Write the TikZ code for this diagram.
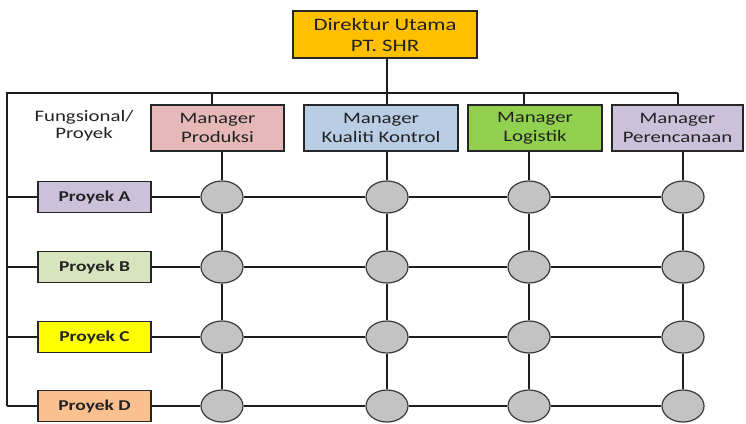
\documentclass[tikz,border=0pt]{standalone}
\usepackage{fontspec}
\setmainfont{Carlito}[FakeStretch=1.3]
\usetikzlibrary{shapes.geometric}
\definecolor{txt}{HTML}{222222}
\definecolor{boxline}{HTML}{262626}
\definecolor{linec}{HTML}{1E1E1E}
\definecolor{hubfill}{HTML}{C3C3C3}
\definecolor{hubline}{HTML}{3A3A3A}
\definecolor{cDir}{HTML}{FFC000}
\definecolor{cProd}{HTML}{E6B9B8}
\definecolor{cQC}{HTML}{B9CDE5}
\definecolor{cLog}{HTML}{92D050}
\definecolor{cPlan}{HTML}{CCC1DA}
\definecolor{cA}{HTML}{CCC1DA}
\definecolor{cB}{HTML}{D7E4BD}
\definecolor{cC}{HTML}{FFFF00}
\definecolor{cD}{HTML}{FAC090}
\begin{document}
\begin{tikzpicture}[x=1pt,y=-1pt,
  box/.style={draw=boxline, line width=1.4pt, inner sep=0pt, align=center, text=txt},
  dirbox/.style={box, fill=cDir, minimum width=184pt, minimum height=47pt,
    font=\fontsize{17.5}{21}\selectfont},
  mgr/.style={box, minimum height=46pt, font=\fontsize{16}{19}\selectfont},
  proj/.style={box, minimum width=113pt, minimum height=31pt,
    font=\fontsize{15}{18}\selectfont\bfseries},
  hub/.style={ellipse, draw=hubline, fill=hubfill, line width=1.2pt,
    minimum width=42pt, minimum height=32pt, inner sep=0pt},
  link/.style={draw=linec, line width=1.5pt}]
\useasboundingbox (0,0) rectangle (746,423);

% top level
\node[dirbox] (dir) at (385,34.5) {Direktur Utama\\PT. SHR};

% functional managers
\node[mgr, fill=cProd, minimum width=133pt] (m1) at (217.5,128) {Manager\\Produksi};
\node[mgr, fill=cQC,   minimum width=154pt] (m2) at (381,128)   {Manager\\Kualiti Kontrol};
\node[mgr, fill=cLog,  minimum width=134pt] (m3) at (535,128)   {Manager\\Logistik};
\node[mgr, fill=cPlan, minimum width=131pt] (m4) at (677.5,128) {Manager\\Perencanaan};

\node[text=txt, align=center, font=\fontsize{16}{17}\selectfont] (corner) at (84,126)
  {Fungsional/\\Proyek};

% projects
\node[proj, fill=cA] (pA) at (94.5,197) {Proyek A};
\node[proj, fill=cB] (pB) at (94.5,267) {Proyek B};
\node[proj, fill=cC] (pC) at (94.5,337) {Proyek C};
\node[proj, fill=cD] (pD) at (94.5,406) {Proyek D};

% matrix crossings
\foreach \r/\y in {A/197,B/267,C/337,D/406}{
  \foreach \c/\x in {1/222,2/387,3/529,4/683}{
    \node[hub] (h\r\c) at (\x,\y) {};
  }
}

% bus and side rail
\coordinate (busL) at (7,93);
\coordinate (busR) at (678,93);
\coordinate (d1) at (212,93);
\coordinate (d2) at (387,93);
\coordinate (d3) at (524,93);
\coordinate (d4) at (678,93);
\coordinate (railD) at (7,406);
\draw[link] (busR) -- (busL) -- (railD);
\draw[link] (dir.south -| d2) -- (d2 |- m2.north);
\draw[link] (d1) -- (d1 |- m1.north);
\draw[link] (d3) -- (d3 |- m3.north);
\draw[link] (d4) -- (d4 |- m4.north);

% rows
\foreach \r/\y in {A/197,B/267,C/337,D/406}{
  \coordinate (rail\r) at (7,\y);
  \draw[link] (rail\r) -- (p\r) -- (h\r1) -- (h\r2) -- (h\r3) -- (h\r4);
}

% columns
\foreach \c/\m in {1/m1,2/m2,3/m3,4/m4}{
  \draw[link] (\m.south -| hA\c) -- (hA\c) -- (hB\c) -- (hC\c) -- (hD\c);
}
\end{tikzpicture}
\end{document}
